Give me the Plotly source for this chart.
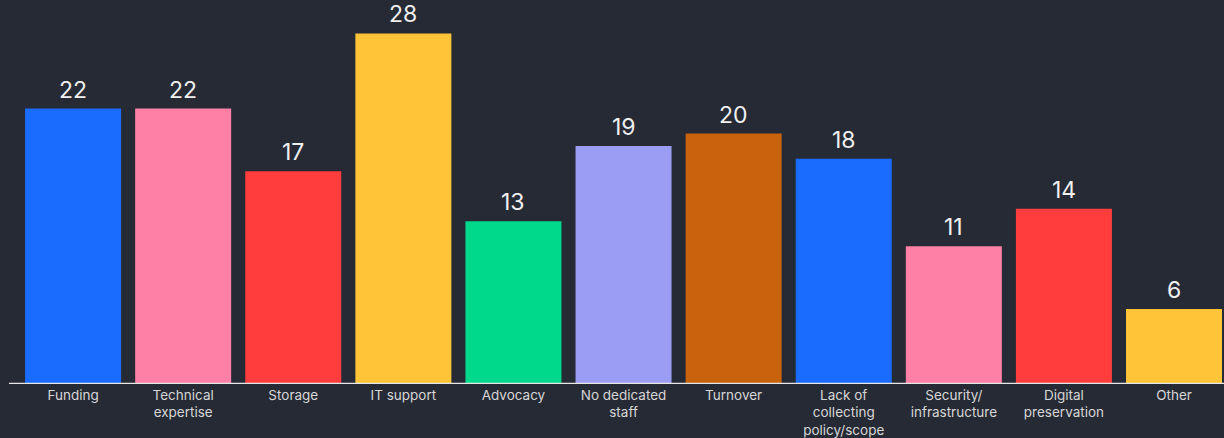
import plotly.graph_objects as go

categories = ["Funding", "Technical<br>expertise", "Storage", "IT support", "Advocacy",
              "No dedicated<br>staff", "Turnover", "Lack of<br>collecting<br>policy/scope",
              "Security/<br>infrastructure", "Digital<br>preservation", "Other"]
values = [22, 22, 17, 28, 13, 19, 20, 18, 11, 14, 6]
colors = ["#1a6cff", "#ff80a6", "#ff3d3d", "#ffc438", "#00d98b", "#9b9cf4",
          "#c8620c", "#1a6cff", "#ff80a6", "#ff3d3d", "#ffc438"]

bg = "#262a35"
x = list(range(len(categories)))

fig = go.Figure()
fig.add_trace(go.Bar(x=x, y=values, marker=dict(color=colors, line=dict(width=0)),
                     width=0.872, hoverinfo="skip"))

for xi, v in zip(x, values):
    fig.add_annotation(x=xi, y=v, text=str(v), showarrow=False, yanchor="bottom",
                       yshift=3, font=dict(family="Inter, Noto Sans, sans-serif", size=23, color="#f0f0f0"))

fig.update_layout(
    width=1224, height=438,
    paper_bgcolor=bg, plot_bgcolor=bg,
    margin=dict(l=9, r=0, t=0, b=54, autoexpand=False),
    showlegend=False,
    xaxis=dict(range=[-0.582, 10.454], tickmode="array", tickvals=x, ticktext=categories,
               showgrid=False, zeroline=False, showline=False, ticks="", ticklabelstandoff=1,
               automargin=False,
               tickfont=dict(family="Inter, Noto Sans, sans-serif", size=13.5, color="#d6d6d6")),
    yaxis=dict(range=[0, 30.67], visible=False, showgrid=False, zeroline=False, automargin=False),
)
fig.add_shape(type="line", xref="paper", yref="y", x0=0, x1=1, y0=0, y1=0,
              line=dict(color="#e6e6e6", width=2.5))

fig.write_html("out.html")
